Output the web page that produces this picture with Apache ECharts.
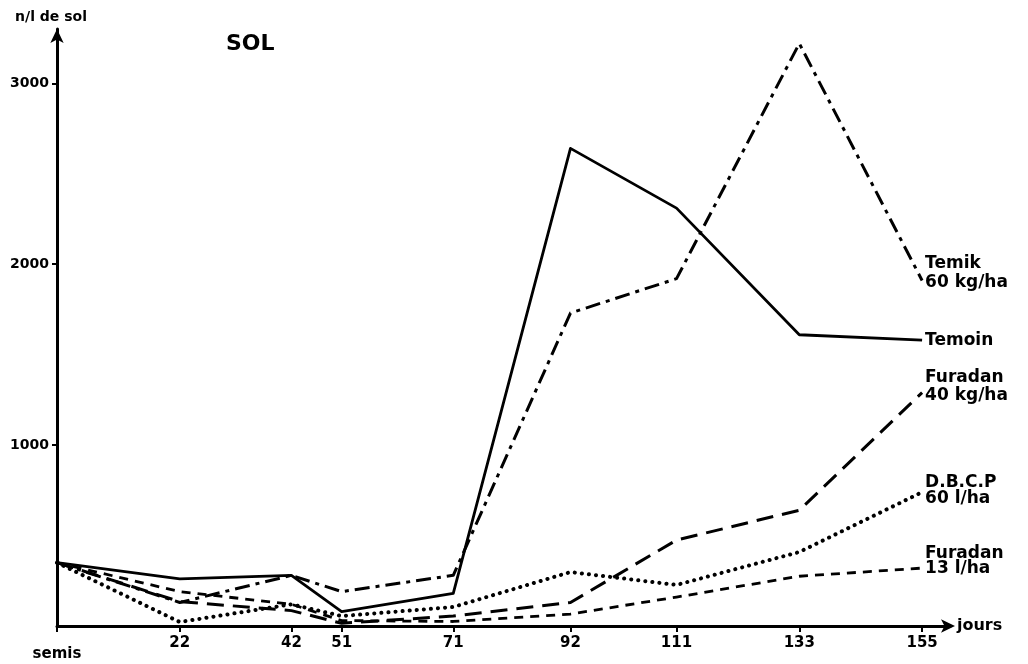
<!DOCTYPE html>
<html>
<head>
<meta charset="utf-8">
<script src="https://cdn.jsdelivr.net/npm/echarts@6/dist/echarts.min.js"></script>
<style>
html,body{margin:0;padding:0;background:#fff;}
#chart{width:1028px;height:664px;}
</style>
</head>
<body>
<div id="chart"></div>
<script>
// days after sowing ("semis" = 0)
var days = [0, 22, 42, 51, 71, 92, 111, 133, 155];
var dayTicks = [0, 22, 42, 51, 71, 92, 111, 133, 155];
var yTicks = [1000, 2000, 3000];

// nematodes per litre of soil
var temoin    = [350, 260, 280, 80, 180, 2640, 2310, 1610, 1580];
var temik     = [350, 130, 280, 190, 280, 1730, 1920, 3220, 1910];
var furadan40 = [350, 135, 85, 15, 55, 130, 475, 640, 1290];
var dbcp      = [350, 22, 120, 55, 105, 298, 227, 409, 740];
var furadan13 = [350, 190, 120, 30, 25, 66, 160, 275, 320];

var seriesNames = ['Temoin', 'Temik\n60 kg/ha', 'Furadan\n40 kg/ha', 'D.B.C.P\n60 l/ha', 'Furadan\n13 l/ha'];

function pairs(vals) {
  return days.map(function (d, i) { return [d, vals[i]]; });
}

var FONT = 'DejaVu Sans';

function mk(name, vals, lineType, width, cap, offset, lh) {
  return {
    name: name,
    type: 'line',
    data: pairs(vals),
    showSymbol: false,
    symbol: 'none',
    silent: true,
    lineStyle: { color: '#000', width: width, type: lineType, cap: cap || 'butt', join: 'round' },
    itemStyle: { color: '#000' },
    endLabel: {
      show: true,
      formatter: name,
      color: '#000',
      fontFamily: FONT,
      fontWeight: 'bold',
      fontSize: 17,
      lineHeight: lh,
      distance: 3,
      offset: offset
    }
  };
}

var chart = echarts.init(document.getElementById('chart'), null, { renderer: 'canvas' });
chart.setOption({
  animation: false,
  backgroundColor: '#fff',
  title: {
    text: 'SOL',
    left: 221,
    top: 28,
    textStyle: { fontFamily: FONT, fontWeight: 'bold', fontSize: 22, color: '#000' }
  },
  grid: { left: 57, right: 78, top: 29, bottom: 38, containLabel: false },
  xAxis: {
    type: 'value',
    min: 0,
    max: 160,
    name: 'jours',
    nameLocation: 'end',
    nameGap: 7,
    nameTextStyle: { fontFamily: FONT, fontWeight: 'bold', fontSize: 16, color: '#000', padding: [0, 0, 10, 0] },
    axisLine: { show: true, lineStyle: { color: '#000', width: 3 }, symbol: ['none', 'arrow'], symbolSize: [10, 14], symbolOffset: [0, 5] },
    axisTick: { show: true, customValues: dayTicks, length: 6, inside: false, lineStyle: { color: '#000', width: 2 } },
    axisLabel: {
      customValues: dayTicks,
      margin: 10,
      fontFamily: FONT,
      fontWeight: 'bold',
      fontSize: 15,
      color: '#000',
      formatter: function (v) { return v === 0 ? '{s|semis}' : String(v); },
      rich: { s: { fontFamily: FONT, fontWeight: 'bold', fontSize: 15, color: '#000', padding: [11, 0, 0, 0] } }
    },
    splitLine: { show: false }
  },
  yAxis: {
    type: 'value',
    min: 0,
    max: 3300,
    interval: 1000,
    name: 'n/l de sol',
    nameLocation: 'end',
    nameGap: 5,
    nameTextStyle: { fontFamily: FONT, fontWeight: 'bold', fontSize: 14, color: '#000', padding: [0, 12, 0, 0] },
    axisLine: { show: true, lineStyle: { color: '#000', width: 3 }, symbol: ['none', 'arrow'], symbolSize: [10, 14] },
    axisTick: { show: true, customValues: yTicks, length: 5, lineStyle: { color: '#000', width: 2 } },
    axisLabel: {
      customValues: yTicks,
      margin: 8,
      fontFamily: FONT,
      fontWeight: 'bold',
      fontSize: 14,
      color: '#000',
      formatter: function (v) { return String(v); }
    },
    splitLine: { show: false }
  },
  series: [
    mk(seriesNames[0], temoin, 'solid', 2.8, 'butt', [0, 0], 18),
    mk(seriesNames[1], temik, [15, 6, 4, 6], 3, 'butt', [0, -7], 19),
    mk(seriesNames[2], furadan40, [17, 9], 3, 'butt', [0, -6], 18),
    mk(seriesNames[3], dbcp, [0.1, 7], 4, 'round', [0, -2], 16),
    mk(seriesNames[4], furadan13, [9, 7], 2.8, 'butt', [0, -7], 15)
  ]
});
</script>
</body>
</html>
